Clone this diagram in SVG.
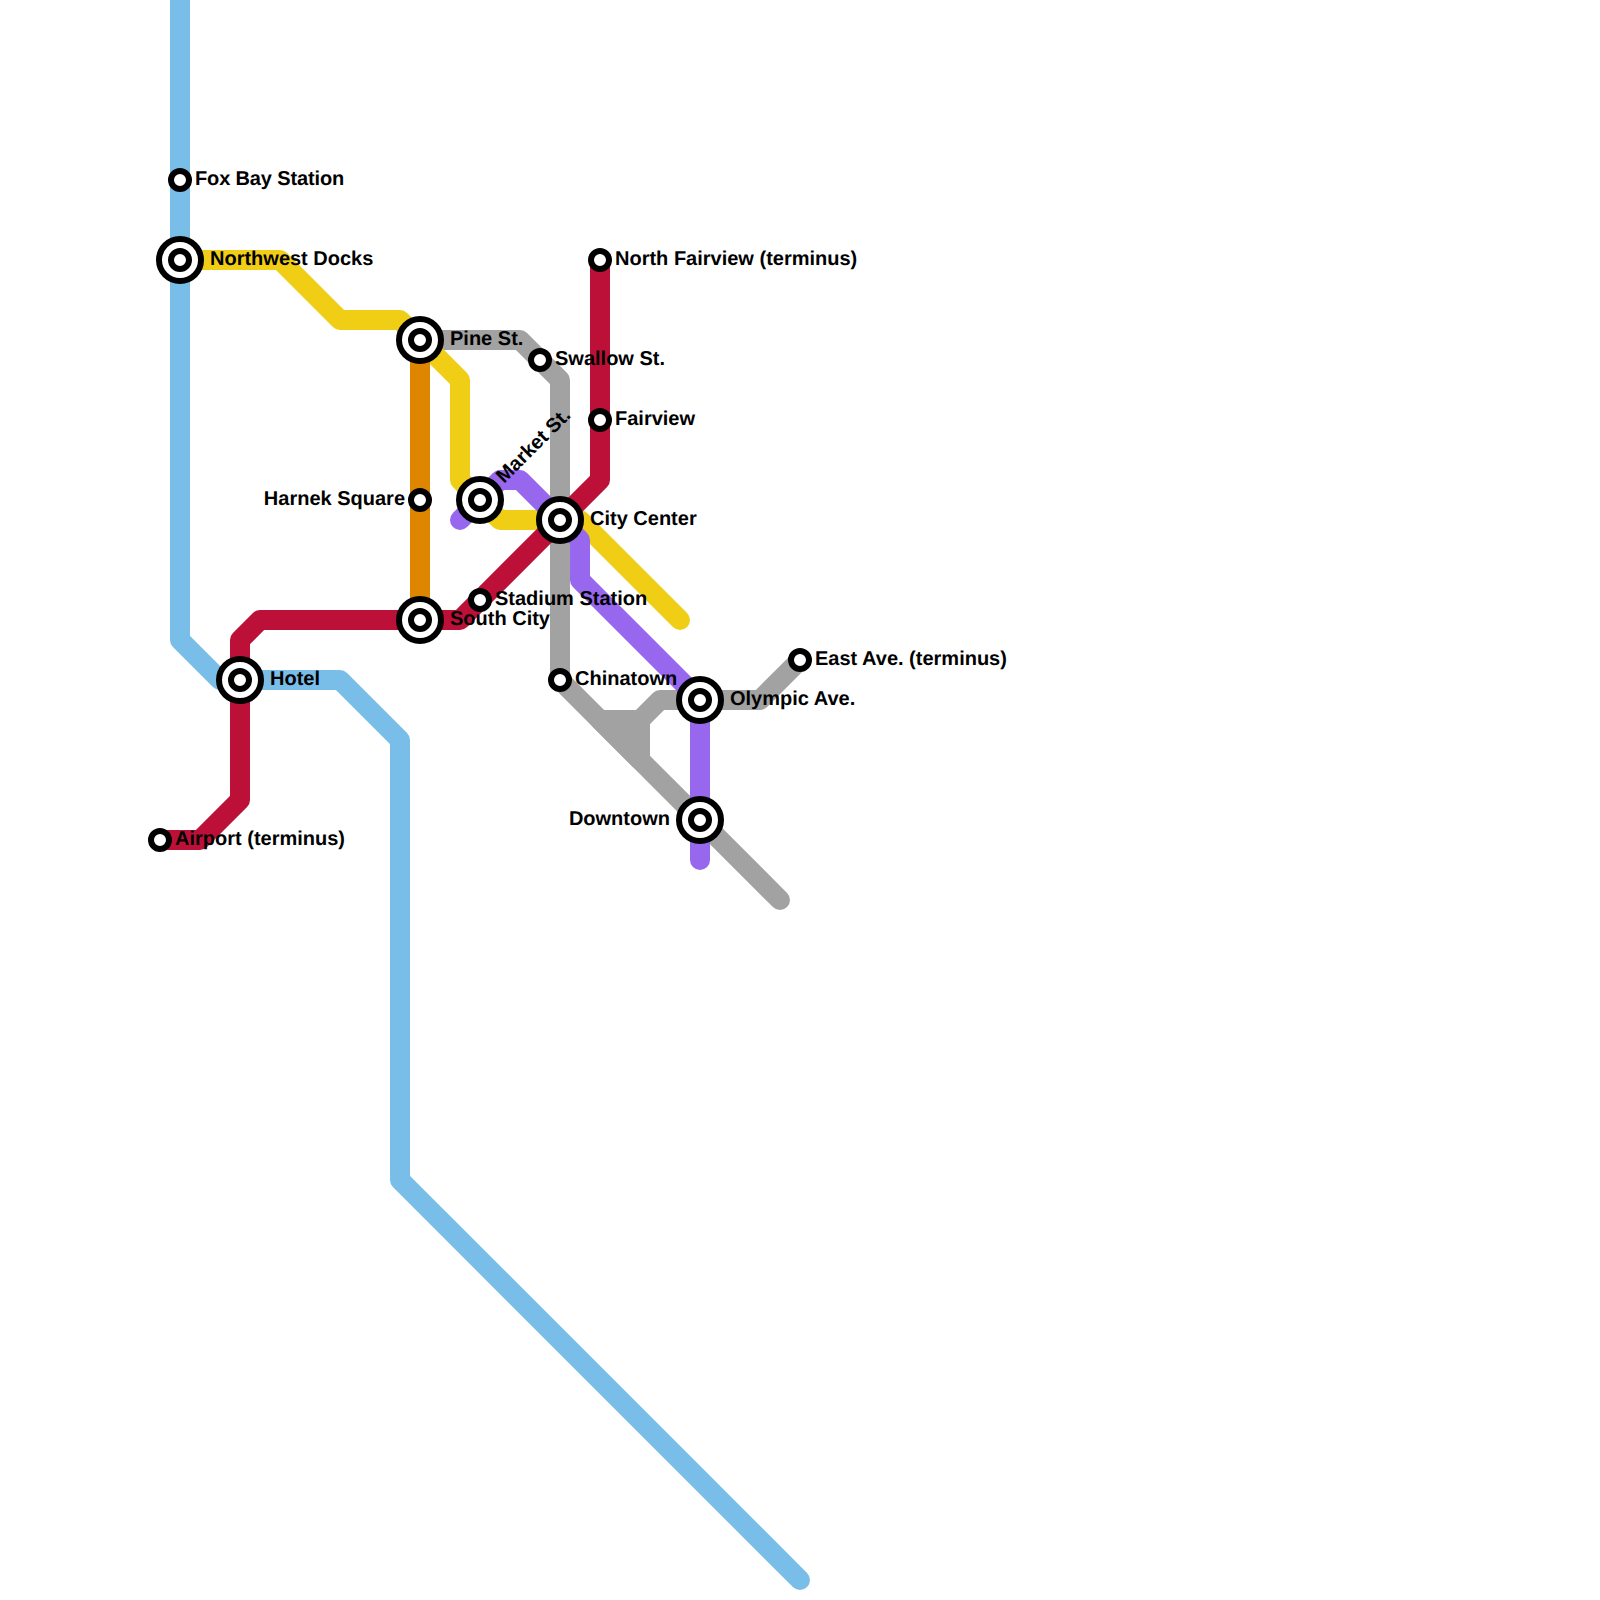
<svg xmlns="http://www.w3.org/2000/svg" width="1600" height="1600" viewBox="0 0 1600 1600">
<style>
.l{fill:none;stroke-width:20;stroke-linecap:round;stroke-linejoin:round}
.o{fill:#fff;stroke:#000;stroke-width:6}
text{font-family:"Liberation Sans",Arial,sans-serif;font-weight:700;font-size:20px;fill:#000;text-rendering:geometricPrecision}
</style>
<defs>
<g id="big"><circle class="o" r="21"/><circle class="o" r="9"/></g>
<g id="small"><circle class="o" r="9"/></g>
</defs>
<rect width="1600" height="1600" fill="#fff"/>
<g id="connectors">
<path id="line-blue" class="l" stroke="#79bde9" d="M180 0V640L220 680H340L400 740V1180L800 1580"/>
<path id="line-gray" class="l" stroke="#a2a2a2" d="M420 340H520L560 380V680L780 900"/>
<path id="line-gray-branch" class="l" stroke="#a2a2a2" style="fill:#a2a2a2" d="M600 720H640V760Z"/>
<path id="line-gray-east" class="l" stroke="#a2a2a2" d="M800 660L760 700H660L640 720"/>
<path id="line-yellow" class="l" stroke="#f0ce15" d="M180 260H280L340 320H400L460 380V480L500 520H580L680 620"/>
<path id="line-orange" class="l" stroke="#df8600" d="M420 340V620"/>
<path id="line-purple" class="l" stroke="#9768ee" d="M460 520L500 480H520L580 540V580L700 700V860"/>
<path id="line-red" class="l" stroke="#bd1038" d="M160 840H200L240 800V640L260 620H460L600 480V260"/>
</g>
<g id="node-fox-bay"><use href="#small" x="180" y="180"/><text x="195" y="184.500" style="letter-spacing:-.14px">Fox Bay Station</text></g>
<g id="node-northwest-docks"><use href="#big" x="180" y="260"/><text x="210" y="265">Northwest Docks</text></g>
<g id="node-pine"><use href="#big" x="420" y="340"/><text x="450" y="345">Pine St.</text></g>
<g id="node-swallow"><use href="#small" x="540" y="360"/><text x="555" y="365">Swallow St.</text></g>
<g id="node-north-fairview"><use href="#small" x="600" y="260"/><text x="615" y="265">North Fairview (terminus)</text></g>
<g id="node-fairview"><use href="#small" x="600" y="420"/><text x="615" y="425">Fairview</text></g>
<g id="node-harnek"><use href="#small" x="420" y="500"/><text x="405" y="505" text-anchor="end">Harnek Square</text></g>
<g id="node-market"><use href="#big" x="480" y="500"/><text transform="translate(504 484) rotate(-45)">Market St.</text></g>
<g id="node-city-center"><use href="#big" x="560" y="520"/><text x="590" y="525">City Center</text></g>
<g id="node-stadium"><use href="#small" x="480" y="600"/><text x="495" y="605">Stadium Station</text></g>
<g id="node-south-city"><use href="#big" x="420" y="620"/><text x="450" y="625">South City</text></g>
<g id="node-hotel"><use href="#big" x="240" y="680"/><text x="270" y="685">Hotel</text></g>
<g id="node-chinatown"><use href="#small" x="560" y="680"/><text x="575" y="685">Chinatown</text></g>
<g id="node-east"><use href="#small" x="800" y="660"/><text x="815" y="665">East Ave. (terminus)</text></g>
<g id="node-olympic"><use href="#big" x="700" y="700"/><text x="730" y="705">Olympic Ave.</text></g>
<g id="node-downtown"><use href="#big" x="700" y="820"/><text x="670" y="825" text-anchor="end">Downtown</text></g>
<g id="node-airport"><use href="#small" x="160" y="840"/><text x="175" y="845">Airport (terminus)</text></g>
</svg>
